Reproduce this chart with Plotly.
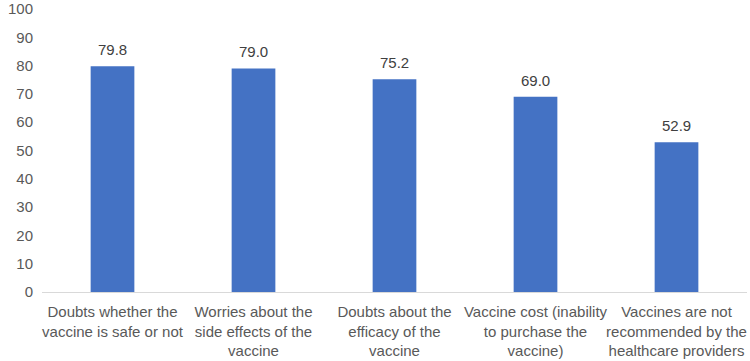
import plotly.graph_objects as go

categories = [
    "Doubts whether the<br>vaccine is safe or not",
    "Worries about the<br>side effects of the<br>vaccine",
    "Doubts about the<br>efficacy of the<br>vaccine",
    "Vaccine cost (inability<br>to purchase the<br>vaccine)",
    "Vaccines are not<br>recommended by the<br>healthcare providers",
]
values = [79.8, 79.0, 75.2, 69.0, 52.9]
value_labels = ["79.8", "79.0", "75.2", "69.0", "52.9"]
y_ticks = [0, 10, 20, 30, 40, 50, 60, 70, 80, 90, 100]

fig = go.Figure(go.Bar(
    x=categories, y=values,
    marker=dict(color="#4472C4", line=dict(width=0)),
    width=0.31,
    hoverinfo="x+y",
))
for c, v, t in zip(categories, values, value_labels):
    fig.add_annotation(x=c, y=v, text=t, showarrow=False, yanchor="bottom",
                       yshift=6, font=dict(size=15, color="#404040"))
fig.update_layout(
    width=750, height=361,
    margin=dict(l=42, r=3, t=9, b=69),
    plot_bgcolor="white", paper_bgcolor="white",
    font=dict(family="Liberation Sans, Arial, sans-serif", size=15, color="#595959"),
    showlegend=False,
)
fig.update_yaxes(range=[0, 100], tickvals=y_ticks, showgrid=False, zeroline=False,
                 showline=False, tickfont=dict(size=15, color="#595959"), ticks="",
                 ticklabelstandoff=8, automargin=False)
fig.update_xaxes(showline=True, linecolor="#D9D9D9", linewidth=1, ticks="",
                 tickfont=dict(size=15, color="#595959"), tickangle=0,
                 automargin=False, ticklabelstandoff=6)
fig.write_html("out.html", config={"displayModeBar": False},
               post_script="document.body.style.margin='0';document.body.style.overflow='hidden';")
